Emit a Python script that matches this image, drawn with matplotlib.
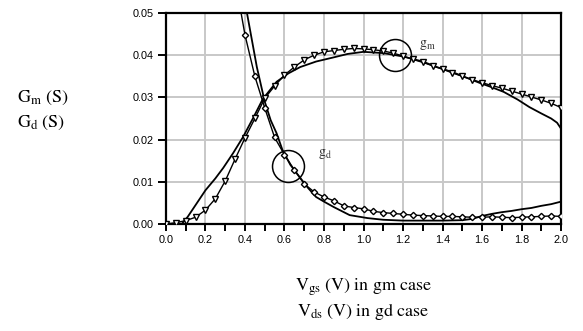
import numpy as np
import matplotlib
matplotlib.use("Agg")
import matplotlib.pyplot as plt

plt.rcParams["mathtext.fontset"] = "stix"

# measured gm (triangles) and simulated gm (line)
gm_meas_x = [0.0, 0.05, 0.1, 0.15, 0.2, 0.25, 0.3, 0.35, 0.4, 0.45, 0.5, 0.55, 0.6, 0.65, 0.7,
             0.75, 0.8, 0.85, 0.9, 0.95, 1.0, 1.05, 1.1, 1.15, 1.2, 1.25, 1.3, 1.35, 1.4, 1.45,
             1.5, 1.55, 1.6, 1.65, 1.7, 1.75, 1.8, 1.85, 1.9, 1.95, 2.0]
gm_meas_y = [0.0, 0.0003, 0.0008, 0.0016, 0.0033, 0.006, 0.0102, 0.0154, 0.0204, 0.025, 0.0298,
             0.0327, 0.0353, 0.0372, 0.0389, 0.0400, 0.0408, 0.0411, 0.0414, 0.0416, 0.0415,
             0.0413, 0.0410, 0.0405, 0.0398, 0.0390, 0.0383, 0.0375, 0.0367, 0.0358, 0.0350,
             0.0342, 0.0335, 0.0328, 0.0322, 0.0315, 0.0308, 0.0301, 0.0294, 0.0286, 0.0276]
gm_sim_x = [0.08, 0.11, 0.15, 0.2, 0.25, 0.29, 0.34, 0.39, 0.44, 0.49, 0.56, 0.62, 0.68, 0.76,
            0.85, 0.92, 1.0, 1.1, 1.2, 1.3, 1.37, 1.45, 1.52, 1.59, 1.65, 1.71, 1.78, 1.84, 1.9,
            1.95, 1.98, 2.0]
gm_sim_y = [0.0, 0.0017, 0.0045, 0.008, 0.0108, 0.0133, 0.0168, 0.0206, 0.0250, 0.0296, 0.0337,
            0.0357, 0.0372, 0.0385, 0.0395, 0.0403, 0.0408, 0.0405, 0.0397, 0.0385, 0.0372,
            0.0360, 0.0347, 0.0334, 0.0324, 0.0313, 0.0295, 0.0277, 0.0262, 0.0250, 0.0240,
            0.0226]

# measured gd (diamonds) and simulated gd (line)
gd_meas_x = [0.3, 0.35, 0.4, 0.45, 0.5, 0.55, 0.6, 0.65, 0.7, 0.75, 0.8, 0.85, 0.9, 0.95, 1.0,
             1.05, 1.1, 1.15, 1.2, 1.25, 1.3, 1.35, 1.4, 1.45, 1.5, 1.55, 1.6, 1.65, 1.7, 1.75,
             1.8, 1.85, 1.9, 1.95, 2.0]
gd_meas_y = [0.075, 0.058, 0.0448, 0.035, 0.0275, 0.0205, 0.0164, 0.0128, 0.0095, 0.0076,
             0.0064, 0.0055, 0.0043, 0.0039, 0.0036, 0.0030, 0.0027, 0.0025, 0.0023, 0.0021,
             0.0020, 0.0019, 0.0018, 0.0018, 0.0017, 0.0016, 0.0016, 0.0017, 0.0016, 0.0015,
             0.0016, 0.0017, 0.0018, 0.0019, 0.0018]
gd_sim_x = [0.35, 0.41, 0.46, 0.5, 0.53, 0.56, 0.59, 0.63, 0.68, 0.72, 0.76, 0.8, 0.85, 0.93,
            1.02, 1.1, 1.2, 1.3, 1.4, 1.5, 1.55, 1.6, 1.65, 1.7, 1.75, 1.8, 1.85, 1.9, 1.95, 2.0]
gd_sim_y = [0.07, 0.05, 0.0372, 0.0290, 0.0246, 0.0215, 0.0175, 0.0140, 0.0109, 0.0085, 0.0064,
            0.0053, 0.0040, 0.0021, 0.0014, 0.0010, 0.0008, 0.0008, 0.0008, 0.0009, 0.0012,
            0.0019, 0.0024, 0.0028, 0.0031, 0.0035, 0.0038, 0.0043, 0.0047, 0.0053]

x_ticks = [0.0, 0.2, 0.4, 0.6, 0.8, 1.0, 1.2, 1.4, 1.6, 1.8, 2.0]
y_ticks = [0.00, 0.01, 0.02, 0.03, 0.04, 0.05]

# annotation circles: (centre x, centre y), label position
gm_circle, gm_label = (1.16, 0.0400), (1.28, 0.0425)
gd_circle, gd_label = (0.62, 0.0137), (0.77, 0.0165)

fig = plt.figure(figsize=(5.83, 3.31), dpi=100)
ax = fig.add_axes([0.2847, 0.3233, 0.9623 - 0.2847, 0.9607 - 0.3233])

ax.plot(gm_sim_x, gm_sim_y, color="black", lw=1.3, zorder=3)
ax.plot(gd_sim_x, gd_sim_y, color="black", lw=1.3, zorder=3)
ax.plot(gm_meas_x, gm_meas_y, color="black", lw=1.0, marker="v", ms=4.2,
        mfc="white", mec="black", mew=1.0, zorder=4)
ax.plot(gd_meas_x, gd_meas_y, color="black", lw=1.0, marker="D", ms=3.2,
        mfc="white", mec="black", mew=1.0, zorder=4)

for c in (gm_circle, gd_circle):
    ax.plot([c[0]], [c[1]], marker="o", ms=23, mfc="none", mec="black", mew=1.1, zorder=5)
ax.text(*gm_label, r"$\mathrm{g_m}$", fontsize=10, color="#333333", ha="left", va="center")
ax.text(*gd_label, r"$\mathrm{g_d}$", fontsize=10, color="#333333", ha="left", va="center")

ax.set_xlim(0, 2.0)
ax.set_ylim(0, 0.05)
ax.set_xticks(x_ticks)
ax.set_xticklabels([f"{v:.1f}" for v in x_ticks])
ax.set_xticks(np.arange(0.1, 2.0, 0.2), minor=True)
ax.set_yticks(y_ticks)
ax.set_yticklabels([f"{v:.2f}" for v in y_ticks])
ax.grid(True, color="#c8c8c8", lw=1.4)
ax.set_axisbelow(True)
for s in ax.spines.values():
    s.set_linewidth(1.6)
ax.tick_params(axis="both", which="both", direction="out", length=5, width=1.4,
               labelsize=7.8, pad=3)
ax.tick_params(axis="y", length=6)
for lab in ax.get_xticklabels() + ax.get_yticklabels():
    lab.set_fontfamily("Liberation Sans")

fig.text(0.03, 0.705, r"$\mathrm{G_m\ (S)}$", fontsize=13, ha="left", va="center")
fig.text(0.03, 0.63, r"$\mathrm{G_d\ (S)}$", fontsize=13, ha="left", va="center")
fig.text(0.623, 0.132, r"$\mathrm{V_{gs}\ (V)\ in\ gm\ case}$", fontsize=13, ha="center", va="center")
fig.text(0.623, 0.06, r"$\mathrm{V_{ds}\ (V)\ in\ gd\ case}$", fontsize=13, ha="center", va="center")

fig.savefig("out.png", dpi=100)
